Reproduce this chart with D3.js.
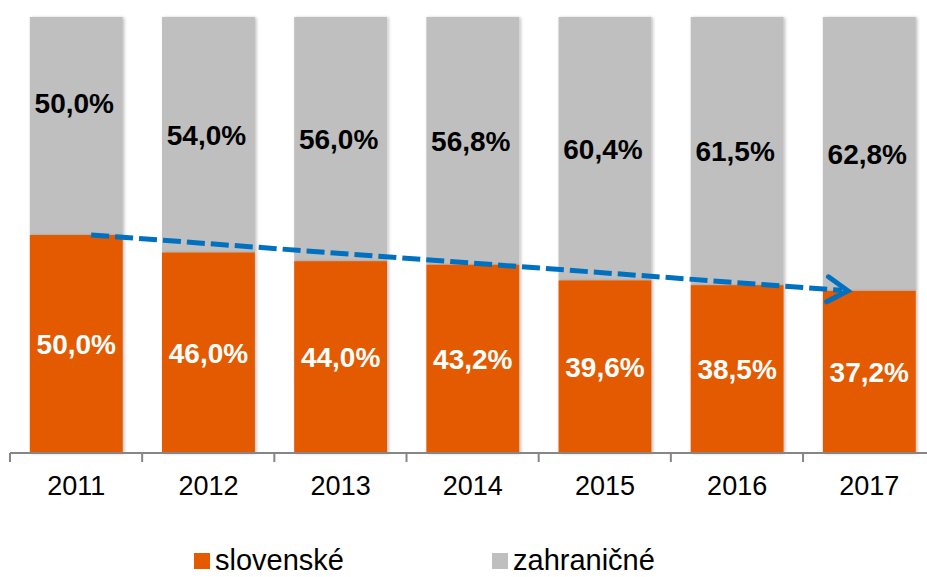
<!DOCTYPE html>
<html lang="sk">
<head>
  <meta charset="utf-8">
  <title></title>
  <script src="https://d3js.org/d3.v7.min.js"></script>
</head>
<style>
  body { margin: 0; background: #fff; }
  svg { display: block; font-family: "Liberation Sans", Arial, sans-serif; }
</style>
<body>
  <div id="my_dataviz"></div>
<script>
  // data
  var years = ["2011", "2012", "2013", "2014", "2015", "2016", "2017"];
  var slovenske = [50.0, 46.0, 44.0, 43.2, 39.6, 38.5, 37.2];
  var zahranicne = [50.0, 54.0, 56.0, 56.8, 60.4, 61.5, 62.8];
  var seriesNames = ["slovenské", "zahraničné"];

  var width = 927, height = 577;
  var colors = { slov: "#E35A00", zahr: "#BFBFBF", arrow: "#0070C0" };

  var svg = d3.select("#my_dataviz")
    .append("svg")
    .attr("width", width)
    .attr("height", height);

  // soft shadow like the original bars
  var defs = svg.append("defs");
  var f = defs.append("filter").attr("id", "shadow")
    .attr("x", "-10%").attr("y", "-10%").attr("width", "130%").attr("height", "130%");
  f.append("feDropShadow")
    .attr("dx", 1.5).attr("dy", 0.5).attr("stdDeviation", 1.5)
    .attr("flood-color", "#000").attr("flood-opacity", 0.25);

  var x = d3.scaleBand()
    .domain(years)
    .range([10, 935.6])
    .paddingInner(0.297)
    .paddingOuter(0.15);

  var y = d3.scaleLinear()
    .domain([0, 100])
    .range([453, 17]);

  var fmt = function(v) { return v.toFixed(1).replace(".", ",") + "%"; };

  var rows = years.map(function(yr, i) {
    return { year: yr, slov: slovenske[i], zahr: zahranicne[i] };
  });

  // grey (top) segments
  svg.append("g")
    .selectAll("rect")
    .data(rows)
    .enter()
    .append("rect")
    .attr("x", function(d) { return x(d.year); })
    .attr("y", function(d) { return y(d.slov + d.zahr); })
    .attr("width", x.bandwidth())
    .attr("height", function(d) { return y(d.slov) - y(d.slov + d.zahr); })
    .attr("fill", colors.zahr)
    .attr("filter", "url(#shadow)");

  // orange (bottom) segments
  svg.append("g")
    .selectAll("rect")
    .data(rows)
    .enter()
    .append("rect")
    .attr("x", function(d) { return x(d.year); })
    .attr("y", function(d) { return y(d.slov); })
    .attr("width", x.bandwidth())
    .attr("height", function(d) { return y(0) - y(d.slov); })
    .attr("fill", colors.slov)
    .attr("filter", "url(#shadow)");

  // x axis
  var axis = svg.append("g")
    .attr("transform", "translate(0," + y(0) + ")")
    .call(d3.axisBottom(x).tickSize(0).tickPadding(0));
  axis.select(".domain").remove();
  axis.selectAll("text")
    .attr("y", 42)
    .attr("dy", null)
    .attr("font-size", "27px")
    .attr("font-family", "Liberation Sans, Arial, sans-serif")
    .attr("fill", "#000");
  axis.append("line")
    .attr("x1", 10).attr("x2", width)
    .attr("stroke", "#868686").attr("stroke-width", 2);
  // tick marks between categories
  var step = x.step();
  var bounds = d3.range(years.length).map(function(i) { return x(years[i]) - step * x.paddingOuter(); });
  axis.selectAll(".sep")
    .data(bounds)
    .enter()
    .append("line")
    .attr("x1", function(d) { return d; })
    .attr("x2", function(d) { return d; })
    .attr("y1", 0).attr("y2", 9)
    .attr("stroke", "#868686").attr("stroke-width", 2);

  // value labels
  svg.append("g")
    .selectAll("text")
    .data(rows)
    .enter()
    .append("text")
    .attr("x", function(d) { return x(d.year) + x.bandwidth() / 2 - 2; })
    .attr("y", function(d, i) {
      var mid = (y(d.slov) + y(d.slov + d.zahr)) / 2;
      return i === 0 ? mid - 23 : mid;   // first label moved up above the arrow
    })
    .attr("dy", "0.36em")
    .attr("text-anchor", "middle")
    .attr("font-size", "28px")
    .attr("font-weight", "bold")
    .attr("fill", "#000")
    .text(function(d) { return fmt(d.zahr); });

  svg.append("g")
    .selectAll("text")
    .data(rows)
    .enter()
    .append("text")
    .attr("x", function(d) { return x(d.year) + x.bandwidth() / 2; })
    .attr("y", function(d) { return (y(0) + y(d.slov)) / 2; })
    .attr("dy", "0.36em")
    .attr("text-anchor", "middle")
    .attr("font-size", "28px")
    .attr("font-weight", "bold")
    .attr("fill", "#fff")
    .text(function(d) { return fmt(d.slov); });

  // trend arrow
  var first = rows[0], last = rows[rows.length - 1];
  var x1 = x(first.year) + x.bandwidth() * 0.66, y1 = y(first.slov);
  var x2 = x(last.year) + x.bandwidth() * 0.27, y2 = y(last.slov);
  svg.append("line")
    .attr("x1", x1).attr("y1", y1)
    .attr("x2", x2 - 6).attr("y2", y2 - 0.45)
    .attr("stroke", colors.arrow)
    .attr("stroke-width", 5)
    .attr("stroke-dasharray", "18,6");
  var ang = Math.atan2(y2 - y1, x2 - x1);
  var len = 24, spread = 0.55;
  var p1 = [x2 - len * Math.cos(ang - spread), y2 - len * Math.sin(ang - spread)];
  var p2 = [x2 - len * Math.cos(ang + spread), y2 - len * Math.sin(ang + spread)];
  svg.append("path")
    .attr("d", "M" + p1 + "L" + [x2, y2] + "L" + p2)
    .attr("fill", "none")
    .attr("stroke", colors.arrow)
    .attr("stroke-width", 5)
    .attr("stroke-linecap", "round")
    .attr("stroke-linejoin", "miter");

  // legend
  var legendX = [194, 492];
  var legColors = [colors.slov, colors.zahr];
  var leg = svg.append("g")
    .selectAll("g")
    .data(seriesNames)
    .enter()
    .append("g")
    .attr("transform", function(d, i) { return "translate(" + legendX[i] + ",553)"; });
  leg.append("rect")
    .attr("width", 16).attr("height", 16)
    .attr("fill", function(d, i) { return legColors[i]; });
  leg.append("text")
    .attr("x", 21)
    .attr("y", 17)
    .attr("font-size", "29px")
    .attr("fill", "#000")
    .text(function(d) { return d; });
</script>
</body>
</html>
